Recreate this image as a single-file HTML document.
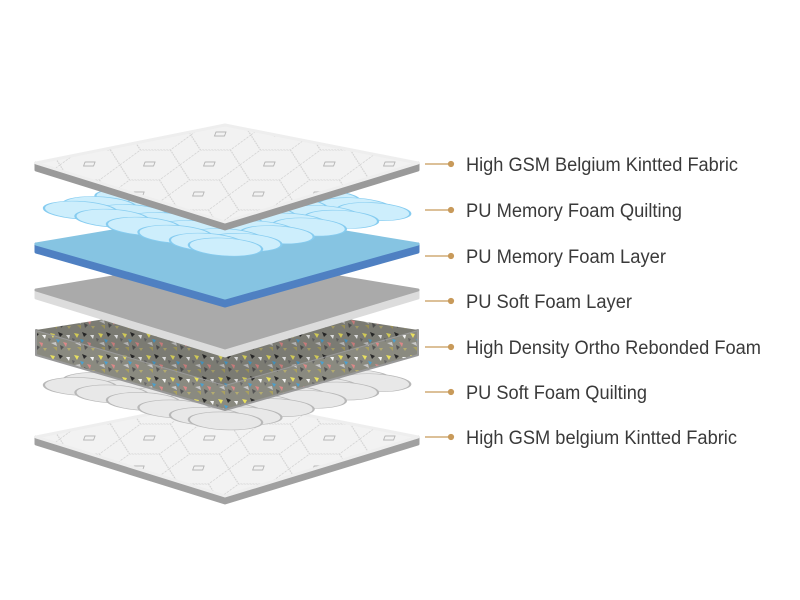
<!DOCTYPE html>
<html><head><style>
html,body{margin:0;padding:0;background:#fff;}
svg{display:block}
text{font-family:"Liberation Sans Narrow","Liberation Sans",sans-serif;font-size:19px;fill:#3a3a3a}
</style></head><body>
<svg width="800" height="600" viewBox="0 0 800 600" xmlns="http://www.w3.org/2000/svg" xmlns:xlink="http://www.w3.org/1999/xlink">
<defs>
<pattern id="hex" width="60" height="30" patternUnits="userSpaceOnUse" patternTransform="skewX(-20)">
<rect width="60" height="30" fill="#f2f2f2"/>
<path d="M0 15 L15 0 L45 0 L60 15 L45 30 L15 30 Z" fill="none" stroke="#cdcdcd" stroke-width="0.8" stroke-dasharray="2 1"/>
<rect x="24" y="12" width="10" height="4" fill="none" stroke="#aaa" stroke-width="0.8"/>
</pattern>
<pattern id="speck" width="24" height="22" patternUnits="userSpaceOnUse">
<rect width="24" height="22" fill="#8a8a80"/>
<path d="M2 3l5 1-2 4z" fill="#e8e060"/><path d="M10 2l5 2-3 3z" fill="#2a2a2a"/>
<path d="M15 12l4 1-1 4z" fill="#d88"/><path d="M3 13l5-1 1 4z" fill="#c8c8c8"/>
<path d="M8 9l4 1-2 3z" fill="#4aa0d0"/><path d="M18 5l4 0-1 4z" fill="#f4f4f4"/>
<path d="M5 17l4 0 0 4z" fill="#a9a060"/><path d="M12 15l4 2-3 3z" fill="#555"/>
<path d="M19 18l4 0-2 3z" fill="#b4ac70"/><path d="M0 8l3 1-2 3z" fill="#666"/>
</pattern>
<g id="q">
<ellipse cx="5.3" cy="5.3" rx="0.9" ry="0.72"/>
<ellipse cx="4.3" cy="5.3" rx="0.9" ry="0.72"/><ellipse cx="5.3" cy="4.3" rx="0.9" ry="0.72"/>
<ellipse cx="3.3" cy="5.3" rx="0.9" ry="0.72"/><ellipse cx="4.3" cy="4.3" rx="0.9" ry="0.72"/><ellipse cx="5.3" cy="3.3" rx="0.9" ry="0.72"/>
<ellipse cx="2.3" cy="5.3" rx="0.9" ry="0.72"/><ellipse cx="3.3" cy="4.3" rx="0.9" ry="0.72"/><ellipse cx="4.3" cy="3.3" rx="0.9" ry="0.72"/><ellipse cx="5.3" cy="2.3" rx="0.9" ry="0.72"/>
<ellipse cx="1.3" cy="5.3" rx="0.9" ry="0.72"/><ellipse cx="2.3" cy="4.3" rx="0.9" ry="0.72"/><ellipse cx="3.3" cy="3.3" rx="0.9" ry="0.72"/><ellipse cx="4.3" cy="2.3" rx="0.9" ry="0.72"/><ellipse cx="5.3" cy="1.3" rx="0.9" ry="0.72"/>
<ellipse cx="0.7" cy="5.3" rx="0.9" ry="0.72"/><ellipse cx="1.3" cy="4.3" rx="0.9" ry="0.72"/><ellipse cx="2.3" cy="3.3" rx="0.9" ry="0.72"/><ellipse cx="3.3" cy="2.3" rx="0.9" ry="0.72"/><ellipse cx="4.3" cy="1.3" rx="0.9" ry="0.72"/><ellipse cx="5.3" cy="0.7" rx="0.9" ry="0.72"/>
<ellipse cx="0.7" cy="4.3" rx="0.9" ry="0.72"/><ellipse cx="1.3" cy="3.3" rx="0.9" ry="0.72"/><ellipse cx="2.3" cy="2.3" rx="0.9" ry="0.72"/><ellipse cx="3.3" cy="1.3" rx="0.9" ry="0.72"/><ellipse cx="4.3" cy="0.7" rx="0.9" ry="0.72"/>
<ellipse cx="0.7" cy="3.3" rx="0.9" ry="0.72"/><ellipse cx="1.3" cy="2.3" rx="0.9" ry="0.72"/><ellipse cx="2.3" cy="1.3" rx="0.9" ry="0.72"/><ellipse cx="3.3" cy="0.7" rx="0.9" ry="0.72"/>
<ellipse cx="0.7" cy="2.3" rx="0.9" ry="0.72"/><ellipse cx="1.3" cy="1.3" rx="0.9" ry="0.72"/><ellipse cx="2.3" cy="0.7" rx="0.9" ry="0.72"/>
<ellipse cx="0.7" cy="1.3" rx="0.9" ry="0.72"/><ellipse cx="1.3" cy="0.7" rx="0.9" ry="0.72"/>
<ellipse cx="0.7" cy="0.7" rx="0.9" ry="0.72"/>
</g>
</defs>

<!-- layer 7 bottom fabric -->
<g transform="translate(0,274)" stroke-linejoin="round">
<path d="M36 163 L225 222 L418 163 L418 170 L225 229 L36 170Z" fill="#a0a0a0" stroke="#a0a0a0" stroke-width="3"/>
<path d="M36 163 L225 125 L418 163 L225 222Z" fill="url(#hex)" stroke="#eee" stroke-width="3"/>
</g>
<!-- layer 6 white quilting -->
<use xlink:href="#q" fill="#e8e8e8" stroke="#b8b8b8" stroke-width="0.05" transform="matrix(-31.5,-7.5,32.2,-8.3,225,432)"/>
<!-- layer 5 rebonded -->
<g stroke-linejoin="round">
<path d="M36 330 L225 385 L418 330 L418 355 L225 410 L36 355Z" fill="url(#speck)" stroke="#999" stroke-width="2"/>
<path d="M36 330 L225 300 L418 330 L225 385Z" fill="url(#speck)"/>
<path d="M36 330 L225 300 L418 330 L225 385Z" fill="#000" opacity="0.1"/>
</g>
<!-- layer 4 gray -->
<g stroke-linejoin="round">
<path d="M36 290 L225 348 L418 290 L418 298 L225 356 L36 298Z" fill="#dcdcdc" stroke="#dcdcdc" stroke-width="3"/>
<path d="M36 290 L225 258 L418 290 L225 348Z" fill="#aaaaaa" stroke="#aaa" stroke-width="3"/>
</g>
<!-- layer 3 blue -->
<g stroke-linejoin="round">
<path d="M36 244 L225 298 L418 244 L418 252 L225 306 L36 252Z" fill="#4f80c2" stroke="#4f80c2" stroke-width="3"/>
<path d="M36 244 L225 212 L418 244 L225 298Z" fill="#86c4e2" stroke="#86c4e2" stroke-width="3"/>
</g>
<!-- layer 2 blue quilting -->
<use xlink:href="#q" fill="#cdeefc" stroke="#86ccf0" stroke-width="0.05" transform="matrix(-31.5,-8,32.2,-7.7,225,258)"/>
<!-- layer 1 top fabric -->
<g stroke-linejoin="round">
<path d="M36 163 L225 222 L418 163 L418 170 L225 229 L36 170Z" fill="#9a9a9a" stroke="#9a9a9a" stroke-width="3"/>
<path d="M36 163 L225 125 L418 163 L225 222Z" fill="url(#hex)" stroke="#eee" stroke-width="3"/>
</g>

<!-- labels -->
<g stroke="#c89a5a" stroke-width="1.2" fill="#c89a5a">
<line x1="425" y1="164" x2="450" y2="164"/><circle cx="451" cy="164" r="2.5"/>
<line x1="425" y1="210" x2="450" y2="210"/><circle cx="451" cy="210" r="2.5"/>
<line x1="425" y1="256" x2="450" y2="256"/><circle cx="451" cy="256" r="2.5"/>
<line x1="425" y1="301" x2="450" y2="301"/><circle cx="451" cy="301" r="2.5"/>
<line x1="425" y1="347" x2="450" y2="347"/><circle cx="451" cy="347" r="2.5"/>
<line x1="425" y1="392" x2="450" y2="392"/><circle cx="451" cy="392" r="2.5"/>
<line x1="425" y1="437" x2="450" y2="437"/><circle cx="451" cy="437" r="2.5"/>
</g>
<text x="466" y="171" textLength="272" lengthAdjust="spacingAndGlyphs">High GSM Belgium Kintted Fabric</text>
<text x="466" y="217" textLength="216" lengthAdjust="spacingAndGlyphs">PU Memory Foam Quilting</text>
<text x="466" y="263" textLength="200" lengthAdjust="spacingAndGlyphs">PU Memory Foam Layer</text>
<text x="466" y="308" textLength="166" lengthAdjust="spacingAndGlyphs">PU Soft Foam Layer</text>
<text x="466" y="354" textLength="295" lengthAdjust="spacingAndGlyphs">High Density Ortho Rebonded Foam</text>
<text x="466" y="399" textLength="181" lengthAdjust="spacingAndGlyphs">PU Soft Foam Quilting</text>
<text x="466" y="444" textLength="271" lengthAdjust="spacingAndGlyphs">High GSM belgium Kintted Fabric</text>
</svg>
</body></html>
